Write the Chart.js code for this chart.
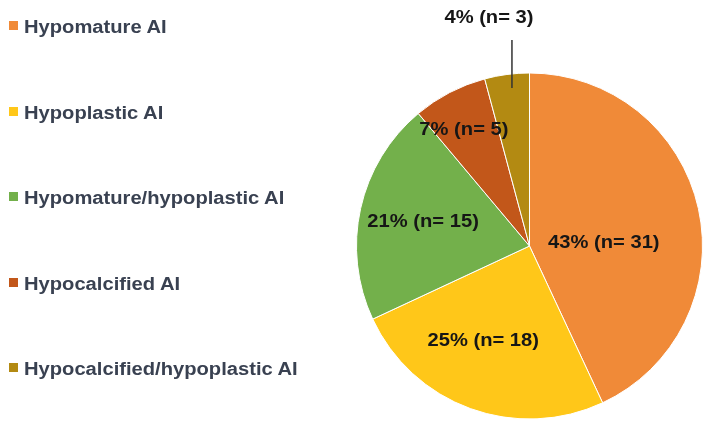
<!DOCTYPE html>
<html>
<head>
<meta charset="utf-8">
<script src="https://cdn.jsdelivr.net/npm/chart.js@4.4.1/dist/chart.umd.min.js"></script>
<style>
  html, body { margin: 0; padding: 0; background: #fff; }
  #wrap { position: relative; width: 711px; height: 430px; }
  #legend { position: absolute; left: 0; top: 0; }
  .item { position: absolute; left: 9px; white-space: nowrap;
          font: bold 18px "Liberation Sans", Arial, sans-serif; color: #394151; }
  .item i { position: absolute; left: 0; top: 3px; width: 9px; height: 9px; }
  .item span { position: absolute; left: 15px; top: 0; line-height: 18px;
               transform: scaleX(1.12); transform-origin: 0 50%; }
</style>
</head>
<body>
<div id="wrap">
  <canvas id="pie" width="711" height="430"></canvas>
  <div id="legend"></div>
</div>
<script>
const labels = ['Hypomature AI', 'Hypoplastic AI', 'Hypomature/hypoplastic AI', 'Hypocalcified AI', 'Hypocalcified/hypoplastic AI'];
const counts = [31, 18, 15, 5, 3];
const percents = [43, 25, 21, 7, 4];
const colors = ['#f08a38', '#ffc719', '#73b04b', '#c2571a', '#b38a12'];

// where each value label sits: fraction of radius, angle nudge (deg)
const labelPlace = [
  { r: 0.43, nudge: 10 },
  { r: 0.61, nudge: 6 },
  { r: 0.63, nudge: 0 },
  { r: 0.77, nudge: -2 },
  { r: 0, nudge: 0, outside: true }
];

// html legend
const legend = document.getElementById('legend');
labels.forEach((lab, i) => {
  const d = document.createElement('div');
  d.className = 'item';
  d.style.top = (18 + i * 85.5) + 'px';
  d.innerHTML = '<i style="background:' + colors[i] + '"></i><span>' + lab + '</span>';
  legend.appendChild(d);
});

function wideText(ctx, txt, x, y) {
  ctx.save();
  ctx.translate(x, y);
  ctx.scale(1.12, 1);
  ctx.fillText(txt, 0, 0);
  ctx.restore();
}

const valueLabels = {
  id: 'valueLabels',
  afterDatasetsDraw(chart) {
    const ctx = chart.ctx;
    const arcs = chart.getDatasetMeta(0).data;
    ctx.save();
    ctx.font = 'bold 18px "Liberation Sans", Arial, sans-serif';
    ctx.fillStyle = '#161616';
    ctx.textAlign = 'center';
    ctx.textBaseline = 'middle';
    arcs.forEach((arc, i) => {
      const p = arc.getProps(['x', 'y', 'startAngle', 'endAngle', 'outerRadius']);
      const mid = (p.startAngle + p.endAngle) / 2;
      const txt = percents[i] + '% (n= ' + counts[i] + ')';
      if (labelPlace[i].outside) {
        const ax = p.x + Math.cos(mid) * p.outerRadius * 0.91;
        const ay = p.y + Math.sin(mid) * p.outerRadius * 0.91;
        const topY = p.y - p.outerRadius - 33;
        ctx.strokeStyle = '#333';
        ctx.lineWidth = 1.5;
        ctx.beginPath();
        ctx.moveTo(ax + 3, ay - 2);
        ctx.lineTo(ax + 3, topY);
        ctx.stroke();
        wideText(ctx, txt, ax - 20, topY - 22);
      } else {
        const a = mid + labelPlace[i].nudge * Math.PI / 180;
        const r = p.outerRadius * labelPlace[i].r;
        wideText(ctx, txt, p.x + Math.cos(a) * r, p.y + Math.sin(a) * r);
      }
    });
    ctx.restore();
  }
};

new Chart(document.getElementById('pie'), {
  type: 'pie',
  data: {
    labels: labels,
    datasets: [{
      data: counts,
      backgroundColor: colors,
      borderColor: '#ffffff',
      borderWidth: 1,
      hoverOffset: 0
    }]
  },
  options: {
    responsive: false,
    animation: false,
    radius: 173,
    layout: { padding: { left: 356, right: 8, top: 72, bottom: 10 } },
    plugins: {
      legend: { display: false },
      tooltip: { enabled: false }
    }
  },
  plugins: [valueLabels]
});
</script>
</body>
</html>
